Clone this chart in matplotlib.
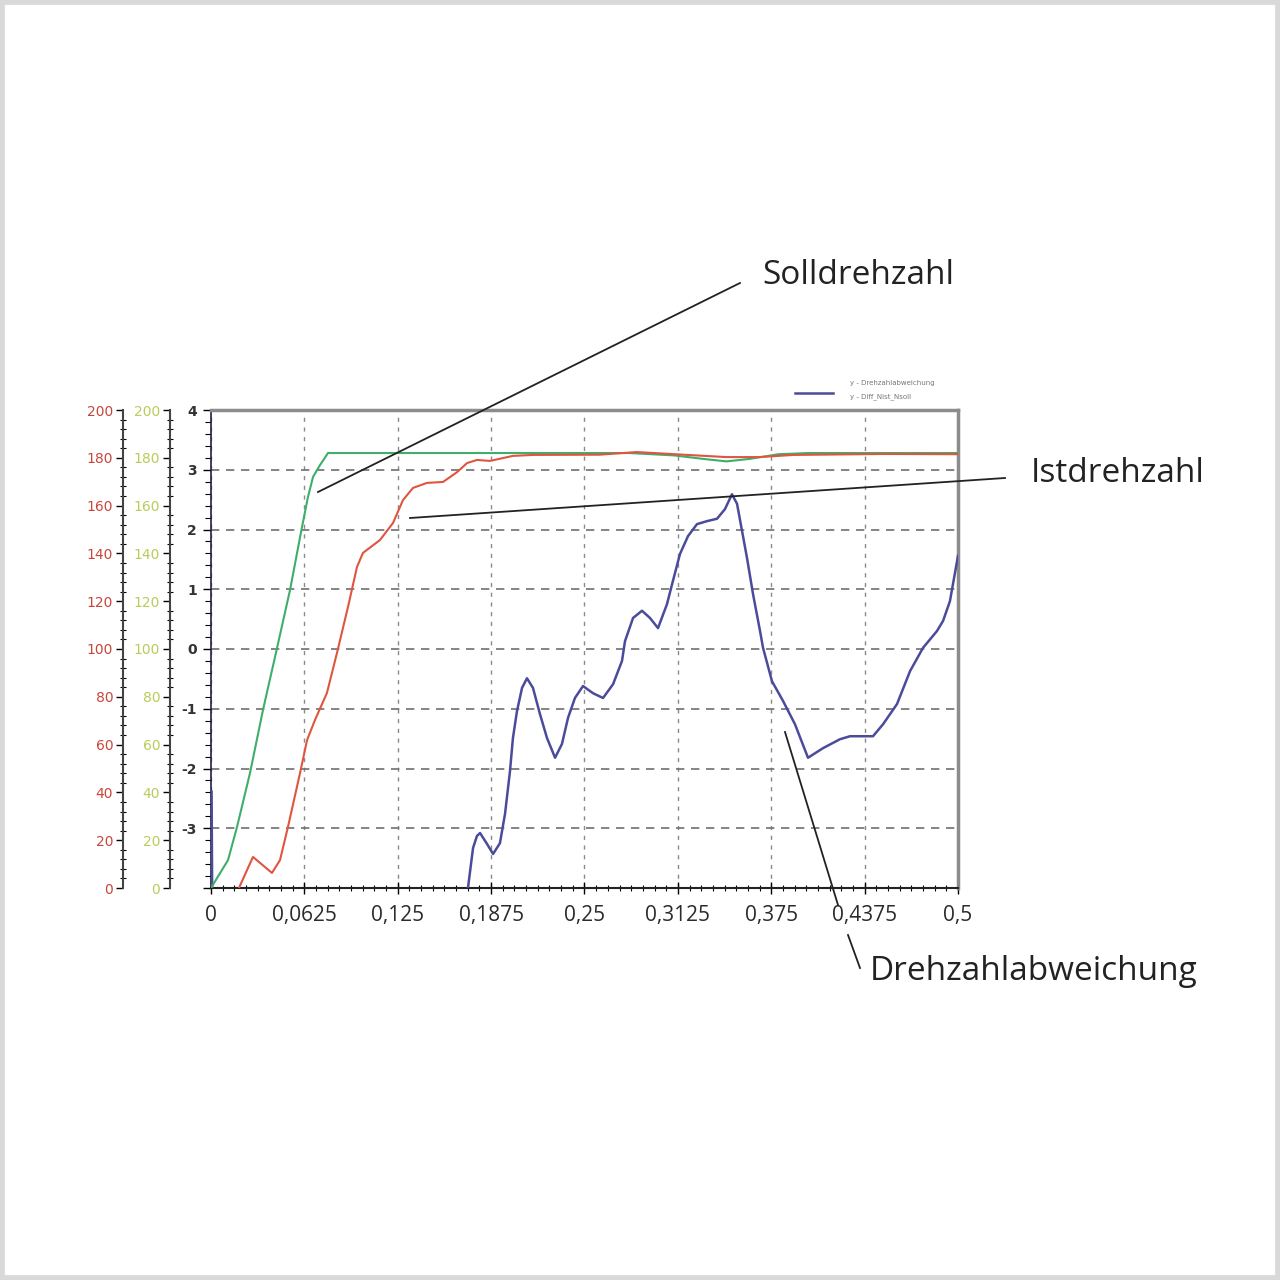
import matplotlib.pyplot as plt
import numpy as np
from matplotlib.lines import Line2D
from matplotlib.patches import Rectangle
from matplotlib.ticker import MultipleLocator

# ====== data =====
# Solldrehzahl (green), rpm scale 0..200
soll_t = [0, 0.0114, 0.0174, 0.0261, 0.0348, 0.0442, 0.0529, 0.0609, 0.0649, 0.0683,
          0.0730, 0.0783, 0.28, 0.31, 0.33, 0.345, 0.36, 0.38, 0.40, 0.5]
soll_n = [0, 11.7, 25.5, 48.1, 74.5, 100.4, 124.7, 151.0, 163.6, 172.0,
          177.0, 182.0, 182.0, 181.0, 179.5, 178.5, 179.5, 181.5, 182.0, 182.0]

# Istdrehzahl (red), rpm scale 0..200
ist_t = [0.0187, 0.0281, 0.0408, 0.0462, 0.0515, 0.0596, 0.0643, 0.0696, 0.0776, 0.0843,
         0.0917, 0.0977, 0.1017, 0.1131, 0.1218, 0.1285, 0.1352, 0.1446, 0.1553, 0.1647,
         0.1714, 0.178, 0.1867, 0.2021, 0.2155, 0.26, 0.285, 0.319, 0.345, 0.367,
         0.39, 0.45, 0.5]
ist_n = [0, 13.0, 6.3, 11.7, 25.5, 48.1, 61.9, 70.3, 81.6, 98.3,
         117.6, 134.3, 140.2, 145.6, 152.7, 162.3, 167.4, 169.5, 169.9, 174.0,
         177.8, 179.1, 178.7, 180.8, 181.2, 181.3, 182.4, 181.2, 180.3, 180.3,
         181.2, 181.6, 181.5]

# Drehzahlabweichung (blue), scale -4..4
diff_t = [0, 0.0004, 0.0012, 0.168, 0.1720, 0.1754, 0.1780, 0.1801, 0.1847, 0.1888,
          0.1934, 0.1968, 0.2001, 0.2021, 0.2048, 0.2082, 0.2115, 0.2155, 0.2202, 0.2249,
          0.2303, 0.2349, 0.2390, 0.2436, 0.2490, 0.2557, 0.2624, 0.2691, 0.2751, 0.2771,
          0.2825, 0.2885, 0.2938, 0.2992, 0.3052, 0.3092, 0.3139, 0.3193, 0.3253, 0.3320,
          0.3387, 0.3440, 0.3487, 0.3521, 0.3588, 0.3628, 0.3675, 0.3695, 0.3755, 0.3829,
          0.3909, 0.3996, 0.4096, 0.4210, 0.4277, 0.4431, 0.4498, 0.4592, 0.4679, 0.4766,
          0.4859, 0.4900, 0.4946, 0.5]
diff_v = [-2.38, -2.38, -6, -6, -4.0, -3.33, -3.13, -3.08, -3.26, -3.43,
          -3.25, -2.76, -2.05, -1.49, -1.04, -0.65, -0.49, -0.65, -1.09, -1.49,
          -1.82, -1.59, -1.15, -0.82, -0.62, -0.74, -0.82, -0.59, -0.20, 0.13,
          0.52, 0.64, 0.52, 0.35, 0.75, 1.14, 1.59, 1.89, 2.09, 2.14,
          2.18, 2.34, 2.59, 2.43, 1.52, 0.92, 0.30, 0.02, -0.54, -0.87,
          -1.26, -1.82, -1.66, -1.51, -1.46, -1.46, -1.26, -0.92, -0.37, 0.02,
          0.30, 0.47, 0.80, 1.56]

x_ticks = [0, 0.0625, 0.125, 0.1875, 0.25, 0.3125, 0.375, 0.4375, 0.5]
x_labels = ["0", "0,0625", "0,125", "0,1875", "0,25", "0,3125", "0,375", "0,4375", "0,5"]

W = 1280
fig = plt.figure(figsize=(12.8, 12.8), dpi=100)
fig.patch.set_facecolor("white")
fig.add_artist(Rectangle((0, 0), 1, 1, transform=fig.transFigure, fill=False,
                         edgecolor="#d9d9d9", linewidth=7))

def fx(px):
    return px / W

def fy(py):
    return 1 - py / W

ax = fig.add_axes([fx(211), fy(888), fx(958) - fx(211), fy(410) - fy(888)])
ax.set_xlim(0, 0.5)
ax.set_ylim(-4, 4)
ax.set_xticks(x_ticks)
ax.set_xticklabels(x_labels, fontsize=15, color="#2a2a2a", family="Open Sans")
ax.xaxis.set_minor_locator(MultipleLocator(0.5 / 64))
ax.set_yticks(range(-4, 5))
ax.set_yticklabels(["", "-3", "-2", "-1", "0", "1", "2", "3", "4"],
                   fontsize=10, color="#333333", fontweight="bold")
ax.yaxis.set_minor_locator(MultipleLocator(0.2))
ax.tick_params(axis="x", which="major", direction="inout", length=8, width=1, pad=8)
ax.tick_params(axis="x", which="minor", direction="inout", length=5, width=0.8)
ax.tick_params(axis="y", which="major", direction="out", length=6, width=1, pad=4)
ax.tick_params(axis="y", which="minor", direction="out", length=4, width=0.8)
ax.grid(True, which="major", axis="y", linestyle=(0, (5, 4)), color="#707070", linewidth=1.2)
ax.grid(True, which="major", axis="x", linestyle=(0, (3, 4)), color="#8a8a8a", linewidth=1.0)
for s in ["top", "right"]:
    ax.spines[s].set_color("#8c8c8c")
    ax.spines[s].set_linewidth(2.5)
ax.spines["left"].set_color("#222244")
ax.spines["bottom"].set_color("#222222")
ax.spines["left"].set_linewidth(1.2)
ax.spines["bottom"].set_linewidth(1.5)

ax.plot(diff_t, diff_v, color="#4b4b9c", linewidth=1.8, zorder=3)

# rpm axes (red and green scales on the left)
ax_red = ax.twinx()
ax_green = ax.twinx()
for a, xpos, col in [(ax_red, 123, "#c8463c"), (ax_green, 170, "#b9cc5a")]:
    a.set_ylim(0, 200)
    a.yaxis.set_ticks_position("left")
    a.yaxis.set_label_position("left")
    a.spines["left"].set_position(("axes", (xpos - 211) / 747))
    a.spines["left"].set_color("#444444")
    a.spines["left"].set_linewidth(1.5)
    for s in ["top", "right", "bottom"]:
        a.spines[s].set_visible(False)
    a.set_yticks(range(0, 201, 20))
    a.yaxis.set_minor_locator(MultipleLocator(4))
    a.tick_params(axis="y", which="major", direction="out", length=5, width=1,
                  labelsize=10, labelcolor=col, pad=2)
    a.tick_params(axis="y", which="minor", direction="inout", length=5, width=0.8)

ax_red.plot(soll_t, soll_n, color="#3fae6a", linewidth=1.5, zorder=3)
ax_red.plot(ist_t, ist_n, color="#e0553f", linewidth=1.5, zorder=4)

# legend in the top right corner
fig.add_artist(Line2D([fx(795), fx(833)], [fy(393), fy(393)], color="#4b4b9c", linewidth=1.8))
fig.text(fx(850), fy(383), "y - Drehzahlabweichung", fontsize=5, color="#777777", va="center")
fig.text(fx(850), fy(397), "y - Diff_Nist_Nsoll", fontsize=5, color="#777777", va="center")

# callouts
callout_font = dict(fontsize=24, color="#222222", family="Open Sans", va="center")
fig.text(fx(762), fy(275), "Solldrehzahl", **callout_font)
fig.text(fx(1031), fy(473), "Istdrehzahl", **callout_font)
fig.text(fx(870), fy(972), "Drehzahlabweichung", **callout_font)
for (x0, y0), (x1, y1) in [((318, 492), (740, 283)),
                           ((410, 518), (1005, 478)),
                           ((785, 732), (838, 905)),
                           ((848, 935), (860, 968))]:
    fig.add_artist(Line2D([fx(x0), fx(x1)], [fy(y0), fy(y1)], color="#222222", linewidth=1.3))

fig.savefig("out.png", dpi=100)
